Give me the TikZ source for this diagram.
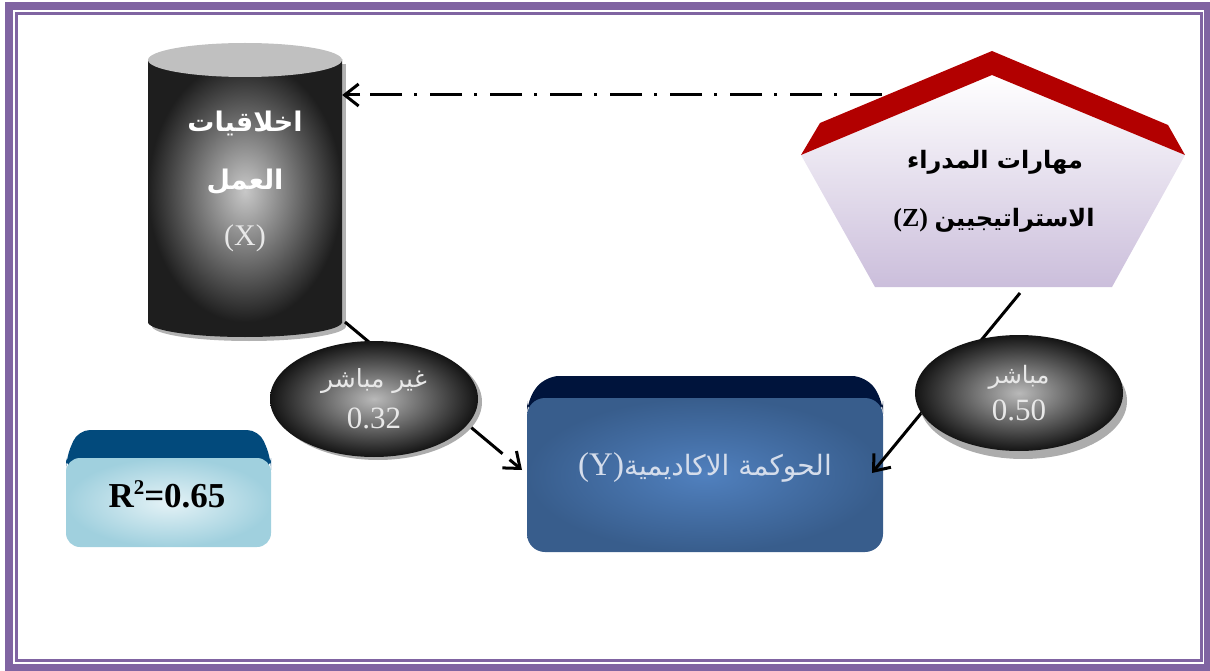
\documentclass[tikz,border=0pt]{standalone}
\usepackage{fontspec}
\setmainfont{Liberation Serif}
\newfontfamily\arabicfont[Script=Arabic]{DejaVu Sans}
\TeXXeTstate=1
\usetikzlibrary{arrows.meta,shapes.geometric,calc}
\definecolor{framepurple}{RGB}{128,100,162}
\definecolor{cyldark}{RGB}{30,30,30}
\definecolor{cylmid}{RGB}{200,200,200}
\definecolor{cyltop}{RGB}{192,192,192}
\definecolor{ellin}{RGB}{185,185,185}
\definecolor{ellout}{RGB}{20,20,20}
\definecolor{roofred}{RGB}{178,0,0}
\definecolor{pentbot}{RGB}{203,190,219}
\definecolor{ynavy}{RGB}{0,20,60}
\definecolor{yin}{RGB}{80,128,190}
\definecolor{yout}{RGB}{56,93,140}
\definecolor{rnavy}{RGB}{2,74,124}
\definecolor{rin}{RGB}{228,242,246}
\definecolor{rout}{RGB}{160,208,222}
\definecolor{lighttxt}{RGB}{232,232,232}
\definecolor{ytxt}{RGB}{213,221,235}
\begin{document}
\begin{tikzpicture}[x=1pt,y=-1pt,
  conn/.style={line width=3pt,black},
  barb/.style={-{Straight Barb[length=14pt,width=22pt]}},
  ellnode/.style={ellipse,minimum width=208pt,minimum height=116pt,inner sep=0pt,
    inner color=ellin,outer color=ellout,align=center,text=lighttxt},
  lbl/.style={inner sep=0pt,align=center}]
\useasboundingbox (0,0) rectangle (1210,671);
% frame
\draw[framepurple,line width=8pt] (9,6) rectangle (1208,668);
\draw[framepurple,line width=3pt] (16.5,14) rectangle (1201.5,660.5);
% invisible reference nodes
\node[minimum width=194pt,minimum height=295pt,inner sep=0pt] (X) at (245,190) {};
\node[minimum width=356pt,minimum height=176pt,inner sep=0pt] (Y) at (705,464) {};
% cylinder
\fill[gray!60] (151,64) rectangle (346,326);
\fill[gray!60] (249,326) ellipse[x radius=97,y radius=15];
\fill[cyldark] (245,322) ellipse[x radius=97,y radius=15];
\shade[inner color=cylmid,outer color=cyldark] (148,60) rectangle (342,322);
\fill[cyltop] (245,60) ellipse[x radius=97,y radius=17];
\node[lbl,text=white] (xt1) at (245,123) {\arabicfont\bfseries\fontsize{27}{30}\selectfont\beginR اخلاقيات\endR};
\node[lbl,text=white] (xt2) at (245,182) {\arabicfont\bfseries\fontsize{27}{30}\selectfont\beginR العمل\endR};
\node[lbl,text=lighttxt] (xt3) at (245,238) {\fontsize{30}{34}\selectfont(X)};
% pentagon
\shade[top color=white,bottom color=pentbot] (801,155) -- (992,75) -- (1185,155) -- (1112,287) -- (875,287) -- cycle;
\fill[roofred] (801,155) -- (820,123) -- (992,51) -- (1168,125) -- (1185,155) -- (992,75) -- cycle;
\node[lbl] (zt1) at (995,162) {\arabicfont\bfseries\fontsize{24}{28}\selectfont\beginR مهارات  المدراء\endR};
\node[lbl] (zt2) at (994,220) {\fontsize{26}{30}\selectfont\bfseries(Z)\ {\arabicfont\fontsize{24}{28}\selectfont\beginR الاستراتيجيين\endR}};
% Y box
\fill[ynavy,rounded corners=14pt] (527,415) -- (527,400) -- (545,376) -- (866,376) -- (883,400) -- (883,415) -- cycle;
\shade[inner color=yin,outer color=yout,rounded corners=18pt] (527,398) rectangle (883,552);
\node[lbl,text=ytxt] (yt) at (705,468) {\fontsize{33}{36}\selectfont(Y){\arabicfont\fontsize{28}{32}\selectfont\beginR الحوكمة الاكاديمية\endR}};
% R2 box
\fill[rnavy,rounded corners=12pt] (66,470) -- (66,458) -- (78,430) -- (259,430) -- (271,458) -- (271,470) -- cycle;
\shade[inner color=rin,outer color=rout,rounded corners=14pt] (66,458) rectangle (271,547);
\node[lbl] (r2) at (167,494) {\fontsize{35}{40}\selectfont\bfseries R\raisebox{0.8ex}{\fontsize{21}{24}\selectfont 2}=0.65};
% connectors
\coordinate (zS) at (882,95);
\coordinate (xTip) at (X.east |- zS);
\draw[conn,dash pattern=on 32pt off 13pt on 3pt off 12pt] (zS) -- ($(xTip)+(27,0)$);
\draw[conn,barb] ($(xTip)+(18,0)$) -- (xTip);
\coordinate (xC) at (345,322);
\coordinate (yL) at (522,470);
\draw[conn] (xC) -- ($(xC)!0.89!(yL)$);
\draw[conn,barb] ($(xC)!0.93!(yL)$) -- (yL);
\coordinate (zB) at (1020,293);
\coordinate (yR) at (872,473);
\draw[conn,barb] (zB) -- (yR);
% ellipses
\fill[gray!65] (378,402) ellipse[x radius=104,y radius=58];
\node[ellnode] (e1) at (374,399) {\arabicfont\fontsize{25}{28}\selectfont\beginR غير مباشر\endR\\[13pt]\fontsize{31}{34}\selectfont 0.32};
\fill[gray!65] (1023,401) ellipse[x radius=104,y radius=58];
\node[ellnode] (e2) at (1019,393) {\arabicfont\fontsize{24}{28}\selectfont\beginR مباشر\endR\\[10pt]\fontsize{31}{34}\selectfont 0.50};
\end{tikzpicture}
\end{document}
